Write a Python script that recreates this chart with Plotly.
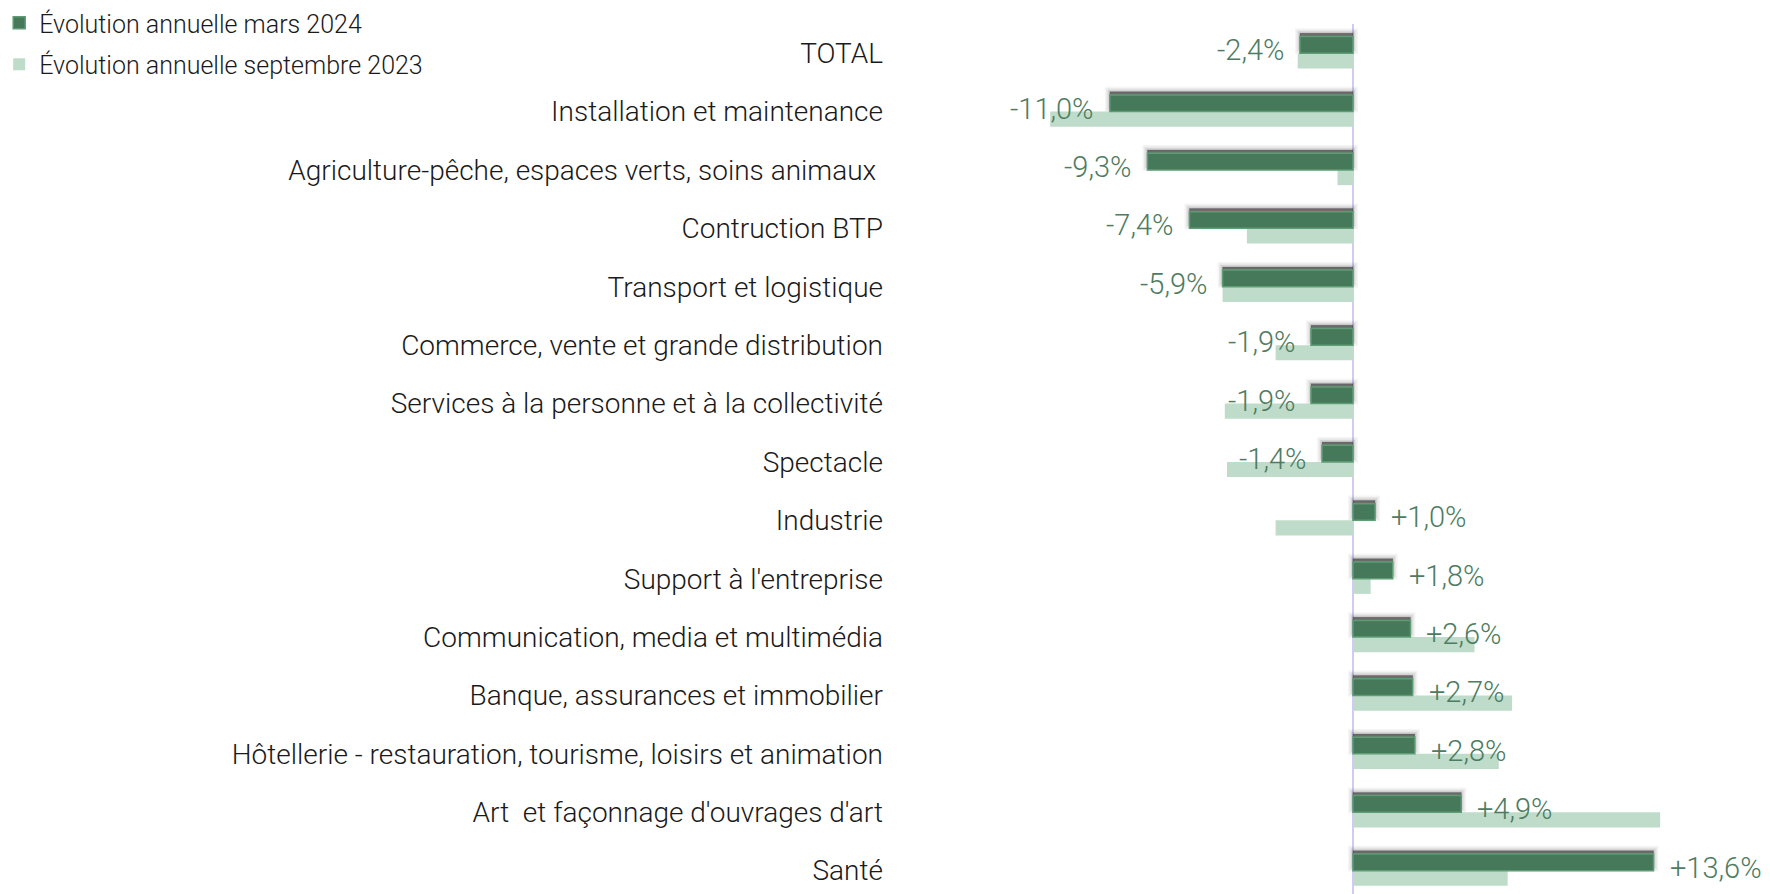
import plotly.graph_objects as go

categories = [
    "TOTAL",
    "Installation et maintenance",
    "Agriculture-pêche, espaces verts, soins animaux ",
    "Contruction BTP",
    "Transport et logistique",
    "Commerce, vente et grande distribution",
    "Services à la personne et à la collectivité",
    "Spectacle",
    "Industrie",
    "Support à l'entreprise",
    "Communication, media et multimédia",
    "Banque, assurances et immobilier",
    "Hôtellerie - restauration, tourisme, loisirs et animation",
    "Art  et façonnage d'ouvrages d'art",
    "Santé",
]
mars_2024 = [-2.4, -11.0, -9.3, -7.4, -5.9, -1.9, -1.9, -1.4, 1.0, 1.8, 2.6, 2.7, 2.8, 4.9, 13.6]
sept_2023 = [-2.5, -13.7, -0.7, -4.8, -5.9, -3.5, -5.8, -5.7, -3.5, 0.8, 5.5, 7.2, 6.6, 13.9, 7.0]

series_names = ["Évolution annuelle mars 2024", "Évolution annuelle septembre 2023"]

DARK = "#46785A"
DARK_EDGE = "#5E9C74"
LIGHT = "#BFDCCB"
LABEL = "#4D7C61"
FONT = "Roboto Light, Roboto, sans-serif"

# page body has an 8px margin, so the figure is sized to fit the window
W, H = 1762, 886
PLOT_LEFT = 876
PLOT_TOP = 16


def fmt(v):
    s = f"{abs(v):.1f}".replace(".", ",")
    return ("+" if v > 0 else "-") + s + "%"


fig = go.Figure()
# soft shadow behind the dark bars
for lw, alpha in [(10, 0.05), (7, 0.07), (4, 0.10), (1.5, 0.15)]:
    fig.add_trace(go.Bar(
        y=categories, x=mars_2024, orientation="h",
        offset=-0.34, width=0.27,
        marker=dict(color="rgba(60,60,60,0.25)", line=dict(color=f"rgba(60,60,60,{alpha})", width=lw)),
        showlegend=False, hoverinfo="skip",
    ))
fig.add_trace(go.Bar(
    y=categories, x=sept_2023, orientation="h", name=series_names[1],
    offset=0.0, width=0.26,
    marker=dict(color=LIGHT, line=dict(width=0)),
    legendgroup="b", legendrank=2,
))
fig.add_trace(go.Bar(
    y=categories, x=mars_2024, orientation="h", name=series_names[0],
    offset=-0.285, width=0.285,
    marker=dict(color=DARK, line=dict(color=DARK_EDGE, width=1.5)),
    legendgroup="a", legendrank=1,
))

for c, v in zip(categories, mars_2024):
    fig.add_annotation(
        x=v, y=c, xref="x", yref="y", text=fmt(v), showarrow=False,
        xanchor="left" if v > 0 else "right",
        xshift=14 if v > 0 else -14, yshift=3,
        font=dict(family=FONT, size=29, color=LABEL, weight=300),
    )

fig.update_layout(
    width=W, height=H,
    margin=dict(l=0, r=0, t=0, b=0, autoexpand=False),
    paper_bgcolor="white", plot_bgcolor="white",
    barmode="overlay",
    font=dict(family=FONT, size=28, color="#1a1a1a", weight=300),
    legend=dict(
        x=-0.005, y=1.009, xanchor="left", yanchor="top",
        font=dict(family=FONT, size=25, color="#1a1a1a", weight=300),
        traceorder="grouped", tracegroupgap=6,
        bgcolor="rgba(0,0,0,0)",
    ),
    xaxis=dict(
        domain=[PLOT_LEFT / W, 1.0],
        range=[-21.22, 18.87], showgrid=False, showticklabels=False,
        zeroline=True, zerolinecolor="#D2CAF4", zerolinewidth=2,
        showline=False, ticks="",
    ),
    yaxis=dict(
        domain=[0.0, 1.0 - PLOT_TOP / H],
        type="category", categoryorder="array", categoryarray=categories,
        range=[14.4, -0.5], showgrid=False, ticks="", showline=False,
        automargin=False,
        tickfont=dict(family=FONT, size=28, color="#1a1a1a", weight=300),
    ),
)

fig.write_html("out.html")
